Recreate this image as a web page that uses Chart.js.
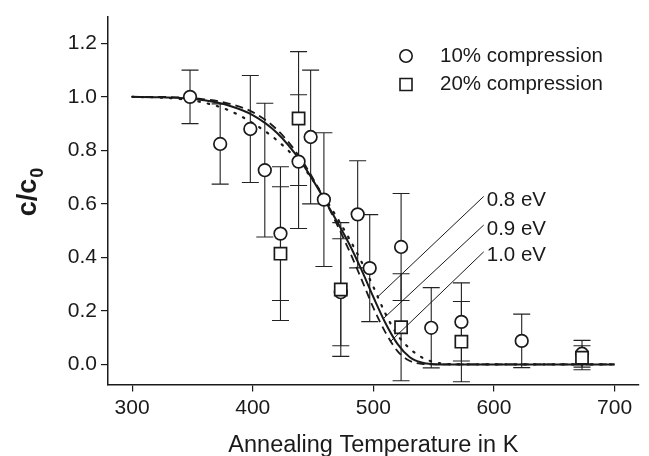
<!DOCTYPE html>
<html><head><meta charset="utf-8">
<script src="https://cdn.jsdelivr.net/npm/chart.js@4/dist/chart.umd.min.js"></script>
<style>html,body{margin:0;padding:0;background:#fff;}canvas{display:block;}</style>
</head><body>
<canvas id="c" width="649" height="456"></canvas>
<script>
// ---- data ----
const temps10 = [348, 373, 398, 410, 423, 438, 448, 459, 473, 487, 497, 523, 548, 573, 623, 673];
const c10     = [1.00, 0.824, 0.880, 0.726, 0.489, 0.758, 0.850, 0.616, 0.27, 0.561, 0.36, 0.439, 0.137, 0.159, 0.088, 0.040];
const err10   = [0.10, 0.15, 0.20, 0.25, 0.25, 0.25, 0.25, 0.25, 0.20, 0.20, 0.20, 0.20, 0.15, 0.146, 0.10, 0.05];

const temps20 = [423, 438, 473, 523, 573, 673];
const c20     = [0.414, 0.919, 0.28, 0.139, 0.085, 0.025];
const err20   = [0.25, 0.25, 0.25, 0.20, 0.15, 0.045];

const fitT    = [300, 320, 340, 360, 380, 400, 420, 440, 460, 480, 490, 500, 510, 520, 530, 540, 550, 560, 580, 600, 650, 700];
const fit08   = [1.000, 0.998, 0.992, 0.978, 0.950, 0.902, 0.838, 0.748, 0.620, 0.470, 0.385, 0.290, 0.190, 0.110, 0.060, 0.027, 0.009, 0.002, 0, 0, 0, 0];
const fit09   = [1.000, 0.999, 0.996, 0.987, 0.968, 0.932, 0.866, 0.758, 0.612, 0.450, 0.355, 0.252, 0.155, 0.077, 0.028, 0.007, 0.001, 0, 0, 0, 0, 0];
const fit10   = [1.000, 1.000, 0.998, 0.991, 0.975, 0.943, 0.878, 0.768, 0.612, 0.425, 0.320, 0.212, 0.120, 0.050, 0.014, 0.002, 0, 0, 0, 0, 0, 0];

const xTicks = [300, 400, 500, 600, 700];
const yTicks = [0.0, 0.2, 0.4, 0.6, 0.8, 1.0, 1.2];

const seriesNames = ['10% compression', '20% compression'];
const energyLabels = ['0.8 eV', '0.9 eV', '1.0 eV'];
// label anchor (data units) and curve point the pointer line goes to
const labelT = [594, 594, 594];
const labelV = [0.613, 0.506, 0.406];
const pointerT = [503, 508, 514];
const pointerV = [0.25, 0.17, 0.085];

const xTitle = 'Annealing Temperature in K';

// ---- helpers ----
const FONT = '"Liberation Sans", Arial, Helvetica, sans-serif';
const INK = '#1a1a1a';
const pts = (xs, ys) => xs.map((x, i) => ({x, y: ys[i]}));

const errPlugin = {
  id: 'errbars',
  beforeDatasetsDraw(chart) {
    const {ctx, scales: {x, y}} = chart;
    ctx.save();
    ctx.strokeStyle = '#222';
    ctx.lineWidth = 1.1;
    const draw = (ts, vs, es) => {
      ts.forEach((t, i) => {
        const px = x.getPixelForValue(t);
        const y1 = y.getPixelForValue(vs[i] + es[i]);
        const y2 = y.getPixelForValue(vs[i] - es[i]);
        ctx.beginPath();
        ctx.moveTo(px, y1); ctx.lineTo(px, y2);
        ctx.moveTo(px - 8.5, y1); ctx.lineTo(px + 8.5, y1);
        ctx.moveTo(px - 8.5, y2); ctx.lineTo(px + 8.5, y2);
        ctx.stroke();
      });
    };
    draw(temps10, c10, err10);
    draw(temps20, c20, err20);
    ctx.restore();
  }
};

const decoPlugin = {
  id: 'deco',
  afterDraw(chart) {
    const {ctx, chartArea, scales: {x, y}} = chart;
    ctx.save();
    // energy labels with pointer lines
    ctx.fillStyle = INK;
    ctx.strokeStyle = INK;
    ctx.lineWidth = 1;
    ctx.font = '20.5px ' + FONT;
    ctx.textAlign = 'left';
    ctx.textBaseline = 'middle';
    energyLabels.forEach((lab, i) => {
      const lx = x.getPixelForValue(labelT[i]);
      const ly = y.getPixelForValue(labelV[i]);
      ctx.fillText(lab, lx, ly);
      ctx.beginPath();
      ctx.moveTo(lx - 3, ly - 4);
      ctx.lineTo(x.getPixelForValue(pointerT[i]), y.getPixelForValue(pointerV[i]));
      ctx.stroke();
    });
    // legend
    const lgX = chartArea.left + 298;
    const lgY = [56, 84.5];
    ctx.lineWidth = 1.6;
    ctx.fillStyle = '#fff';
    ctx.beginPath(); ctx.arc(lgX, lgY[0], 6.2, 0, Math.PI * 2); ctx.fill(); ctx.stroke();
    ctx.beginPath(); ctx.rect(lgX - 6, lgY[1] - 6, 12, 12); ctx.fill(); ctx.stroke();
    ctx.fillStyle = INK;
    ctx.font = '20.5px ' + FONT;
    seriesNames.forEach((s, i) => ctx.fillText(s, lgX + 34, lgY[i]));
    // x title
    ctx.textAlign = 'center';
    ctx.textBaseline = 'alphabetic';
    ctx.font = '23.5px ' + FONT;
    ctx.fillText(xTitle, (chartArea.left + chartArea.right) / 2, 452);
    // y title c/c0
    ctx.translate(36, 192);
    ctx.rotate(-Math.PI / 2);
    ctx.font = 'bold 27px ' + FONT;
    const w1 = ctx.measureText('c/c').width;
    ctx.font = 'bold 18px ' + FONT;
    const w2 = ctx.measureText('0').width;
    const start = -(w1 + w2 + 1) / 2;
    ctx.textAlign = 'left';
    ctx.font = 'bold 27px ' + FONT;
    ctx.fillText('c/c', start, 0);
    ctx.font = 'bold 18px ' + FONT;
    ctx.fillText('0', start + w1 + 1, 7);
    ctx.restore();
  }
};

new Chart(document.getElementById('c'), {
  type: 'scatter',
  data: {
    datasets: [
      { label: seriesNames[1], data: pts(temps20, c20), pointStyle: 'rect', pointRadius: 8.6,
        pointBorderWidth: 1.7, pointBorderColor: INK, pointBackgroundColor: '#fff', showLine: false, order: 0 },
      { label: seriesNames[0], data: pts(temps10, c10), pointStyle: 'circle', pointRadius: 6.3,
        pointBorderWidth: 1.7, pointBorderColor: INK, pointBackgroundColor: '#fff', showLine: false, order: 1 },
      { label: energyLabels[0], data: pts(fitT, fit08), showLine: true, pointRadius: 0, borderColor: INK,
        borderWidth: 2.2, borderDash: [1.5, 8], borderCapStyle: 'round', cubicInterpolationMode: 'monotone', order: 2 },
      { label: energyLabels[1], data: pts(fitT, fit09), showLine: true, pointRadius: 0, borderColor: INK,
        borderWidth: 2, cubicInterpolationMode: 'monotone', order: 2 },
      { label: energyLabels[2], data: pts(fitT, fit10), showLine: true, pointRadius: 0, borderColor: INK,
        borderWidth: 1.8, borderDash: [8, 5], cubicInterpolationMode: 'monotone', order: 2 }
    ]
  },
  options: {
    responsive: false,
    animation: false,
    devicePixelRatio: 1,
    layout: { padding: { top: 9, right: 6, left: 0, bottom: 0 } },
    plugins: { legend: { display: false }, tooltip: { enabled: false } },
    scales: {
      x: {
        type: 'linear', min: 280, max: 720,
        afterBuildTicks: s => { s.ticks = xTicks.map(v => ({value: v})); },
        afterFit: s => { s.height = 71.5; },
        grid: { drawOnChartArea: false, drawTicks: true, tickLength: 7, color: INK, lineWidth: 1.2 },
        border: { display: true, color: INK, width: 1.5 },
        ticks: { color: INK, font: { family: FONT, size: 21 }, padding: 4, maxRotation: 0 },
        title: { display: false }
      },
      y: {
        type: 'linear', min: -0.075, max: 1.3,
        afterBuildTicks: s => { s.ticks = yTicks.map(v => ({value: v})); },
        afterFit: s => { s.width = 108; },
        grid: { drawOnChartArea: false, drawTicks: true, tickLength: 7, color: INK, lineWidth: 1.2 },
        border: { display: true, color: INK, width: 1.5 },
        ticks: { color: INK, font: { family: FONT, size: 21 }, padding: 4, callback: v => v.toFixed(1) },
        title: { display: false }
      }
    }
  },
  plugins: [errPlugin, decoPlugin]
});
</script>
</body></html>
